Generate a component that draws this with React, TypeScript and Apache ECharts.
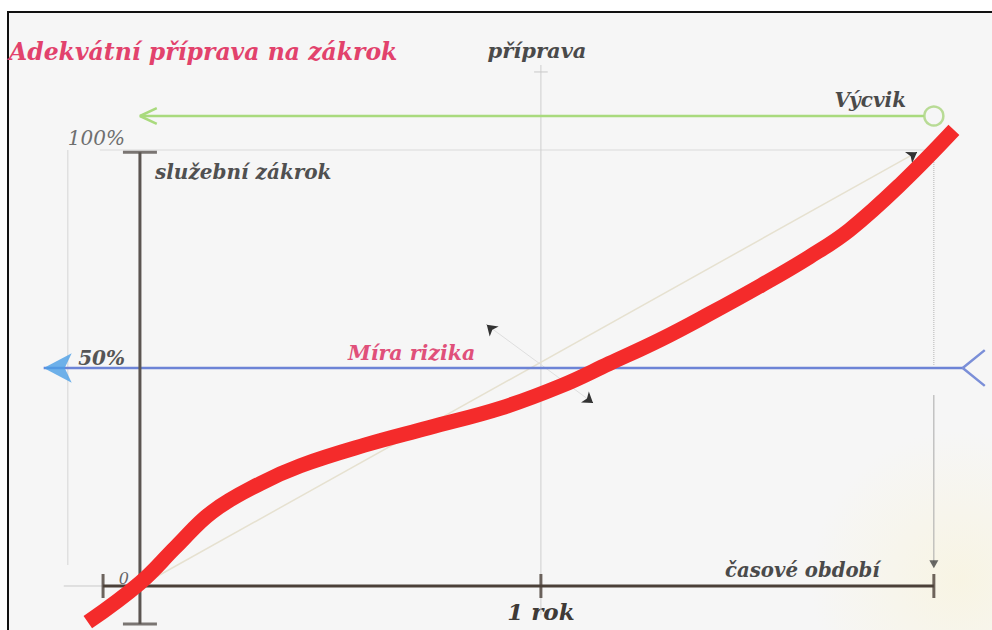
import React, { useEffect, useRef } from "react";
import * as echarts from "echarts";

// ---- data (x in years, y in % of risk / preparation) ----
const curveYears = [-0.13, 0, 0.09, 0.18, 0.3, 0.4, 0.56, 0.72, 0.9, 1.05, 1.17, 1.3, 1.42, 1.55, 1.67, 1.77, 1.9, 2.03];
const curveRisk = [-8.3, 0.7, 9, 17, 23.5, 27.6, 32.3, 36.3, 40.8, 45.9, 51.0, 56.6, 62.4, 69.0, 75.5, 81.7, 92.4, 104.6];

const yTicks = [0, 50, 100];
const yTickLabels = ["0", "50%", "100%"];
const xTicks = [1];
const xTickLabels = ["1 rok"];

const periodEnd = 1.98; // end of "časové období"
const axisStartX = -0.092;
const yAxisTop = 99.5;
const yAxisBottom = -8.7;
const trainingLevel = 107.8; // "Výcvik" line
const trainingStart = 0;
const riskLevel = 50; // "Míra rizika"
const riskStart = -0.24;
const riskEnd = 2.052;
const prepAxisTop = 119.5;
const prepAxisBottom = -6.7;
const diagonalStart = [0, 0];
const diagonalEnd = [1.938, 99.5];
const perpStart = [0.865, 59.9];
const perpEnd = [1.13, 42.0];

// visible window of the value axes
const xViewMin = -0.349;
const xViewMax = 2.125;

function seg(data: number[][], color: string, width: number, z = 3, type: string = "solid") {
  return {
    type: "line",
    data,
    symbol: "none",
    showSymbol: false,
    clip: false,
    silent: true,
    z,
    lineStyle: { color, width, type },
  };
}

function marks(data: number[][], symbol: string, size: any, color: string, rotate = 0, z = 6, extra: any = {}) {
  return {
    type: "scatter",
    data,
    symbol,
    symbolSize: size,
    symbolRotate: rotate,
    clip: false,
    silent: true,
    z,
    itemStyle: { color, ...extra },
  };
}

const serif = '"DejaVu Serif", "Liberation Serif", serif';

function label(text: string, x: number, y: number, size: number, color: string, align = "left", weight = "bold") {
  return {
    type: "text",
    x,
    y,
    z: 100,
    silent: true,
    style: {
      text,
      font: `italic ${weight} ${size}px ${serif}`,
      fill: color,
      align,
      verticalAlign: "middle",
      textAlign: align,
      textVerticalAlign: "middle",
    },
  };
}

export default function App() {
  const ref = useRef<HTMLDivElement>(null);
  useEffect(() => {
    document.body.style.margin = "0";
    const chart = echarts.init(ref.current!, null, { renderer: "svg" });
    const curve = curveYears.map((x, i) => [x, curveRisk[i]]);
    const option: any = {
      animation: false,
      backgroundColor: "#ffffff",
      grid: { left: 0, right: 0, top: 150, bottom: 44 },
      xAxis: {
        type: "value",
        min: xViewMin,
        max: xViewMax,
        axisLine: { show: false },
        axisTick: { show: false },
        splitLine: { show: false },
        axisLabel: {
          customValues: xTicks,
          margin: 14,
          formatter: (v: number) => {
            const i = xTicks.indexOf(v);
            return i >= 0 ? xTickLabels[i] : "";
          },
          color: "#3f3a36",
          fontFamily: serif,
          fontStyle: "italic",
          fontWeight: "bold",
          fontSize: 23,
        },
      },
      yAxis: {
        type: "value",
        min: 0,
        max: 100,
        interval: 50,
        offset: -140,
        axisLine: { show: false },
        axisTick: { show: false },
        splitLine: { show: false },
        axisLabel: {
          margin: 15,
          align: "right",
          verticalAlign: "bottom",
          formatter: (v: number) => {
            const i = yTicks.indexOf(v);
            if (i < 0) return "";
            const key = v === 100 ? "a" : v === 50 ? "b" : "c";
            return `{${key}|${yTickLabels[i]}}`;
          },
          rich: {
            a: { fontFamily: serif, fontStyle: "italic", fontSize: 20, color: "#6f6f6f", padding: [0, 0, 2, 0] },
            b: { fontFamily: serif, fontStyle: "italic", fontWeight: "bold", fontSize: 20, color: "#555" },
            c: { fontFamily: serif, fontStyle: "italic", fontSize: 16, color: "#666", padding: [0, -4, 0, 0] },
          },
        },
      },
      graphic: [
        {
          type: "rect",
          z: 0,
          silent: true,
          shape: { x: 8, y: 12, width: 1000, height: 640 },
          style: { fill: "#f6f6f6", stroke: "#111", lineWidth: 2 },
        },
        {
          type: "circle",
          z: 1,
          silent: true,
          shape: { cx: 960, cy: 580, r: 150 },
          style: {
            fill: new echarts.graphic.RadialGradient(0.5, 0.5, 0.5, [
              { offset: 0, color: "rgba(250,242,205,0.45)" },
              { offset: 1, color: "rgba(250,242,205,0)" },
            ]),
          },
        },
        label("Adekvátní příprava na zákrok", 9, 52, 23.5, "#e2426c"),
        label("příprava", 537, 50, 21, "#4a4a4a", "center"),
        label("Výcvik", 906, 100, 20, "#4a4a4a", "right"),
        label("služební zákrok", 155, 172, 20, "#505050"),
        label("Míra rizika", 348, 353, 20.5, "#e0507a"),
        label("časové období", 725, 570, 19.7, "#4a4a4a"),
      ],
      series: [
        // faint guides
        seg([[-0.19, 0], [axisStartX, 0]], "#c9c9c9", 1, 2),
        seg([[-0.18, 4.8], [-0.18, 100]], "#e0e0e0", 1.5, 2),
        seg([[-0.1, 100], [periodEnd, 100]], "#e3e3e3", 1.5, 2),
        seg([[1, prepAxisTop], [1, prepAxisBottom]], "#cfcfcf", 1, 2),
        seg([[0.983, 117.9], [1.017, 117.9]], "#c8c8c8", 1, 2),
        seg([[periodEnd, 100], [periodEnd, 50.7]], "#b5b5b5", 1, 2, "dotted"),
        seg([[periodEnd, 43.8], [periodEnd, 5.3]], "#a8a8a8", 1, 2),
        {
          ...seg([diagonalStart, diagonalEnd], "#e6e1d0", 1.5, 2),
          markLine: {
            silent: true,
            symbol: ["none", "arrow"],
            symbolSize: 10,
            label: { show: false },
            lineStyle: { color: "#333", width: 1, type: "solid" },
            data: [
              [{ coord: [perpStart[0] + 0.012, perpStart[1] - 1.0] }, { coord: perpStart }],
              [{ coord: [perpEnd[0] - 0.012, perpEnd[1] + 0.8] }, { coord: perpEnd }],
              [{ coord: [diagonalEnd[0] - 0.012, diagonalEnd[1] - 0.7] }, { coord: diagonalEnd }],
            ],
          },
        },
        seg([perpStart, perpEnd], "#dedede", 1, 2),
        // risk line (blue)
        seg([[riskStart, riskLevel], [riskEnd, riskLevel]], "#6d84d6", 2.5, 4),
        seg([[2.107, 54.1], [riskEnd, riskLevel], [2.107, 45.9]], "#7b8fd8", 2.5, 4),
        marks([[riskStart, riskLevel]], "arrow", [22, 28], "#4b9fe6", 90, 5),
        // training line (green)
        seg([[trainingStart, trainingLevel], [1.955, trainingLevel]], "#a9da7d", 2.5, 4),
        seg([[0.042, 109.6], [trainingStart, trainingLevel], [0.042, 106.0]], "#a9da7d", 2.5, 4),
        marks([[periodEnd, trainingLevel]], "circle", 19, "#f6f6f6", 0, 5, { borderColor: "#a9d47d", borderWidth: 2.5 }),
        // dark axes
        seg([[0, yAxisTop], [0, yAxisBottom]], "#5b5551", 3, 6),
        seg([[axisStartX, 0], [periodEnd, 0]], "#4b4038", 3, 6),
        marks([[0, yAxisTop], [0, yAxisBottom]], "rect", [34, 3], "#5b5551", 0, 6),
        marks([[axisStartX, 0], [1, 0], [periodEnd, 0]], "rect", [3, 24], "#4b4038", 0, 6),
        marks([[periodEnd, 5.0]], "triangle", [9, 8], "#444", 180, 6),
        // main curve
        {
          type: "line",
          data: curve,
          smooth: 0.4,
          symbol: "none",
          showSymbol: false,
          clip: false,
          silent: true,
          z: 8,
          lineStyle: { color: "#f42b2b", width: 15, cap: "butt" },
        },
      ],
    };
    chart.setOption(option);
    return () => chart.dispose();
  }, []);
  return <div ref={ref} style={{ width: 992, height: 630 }} />;
}
